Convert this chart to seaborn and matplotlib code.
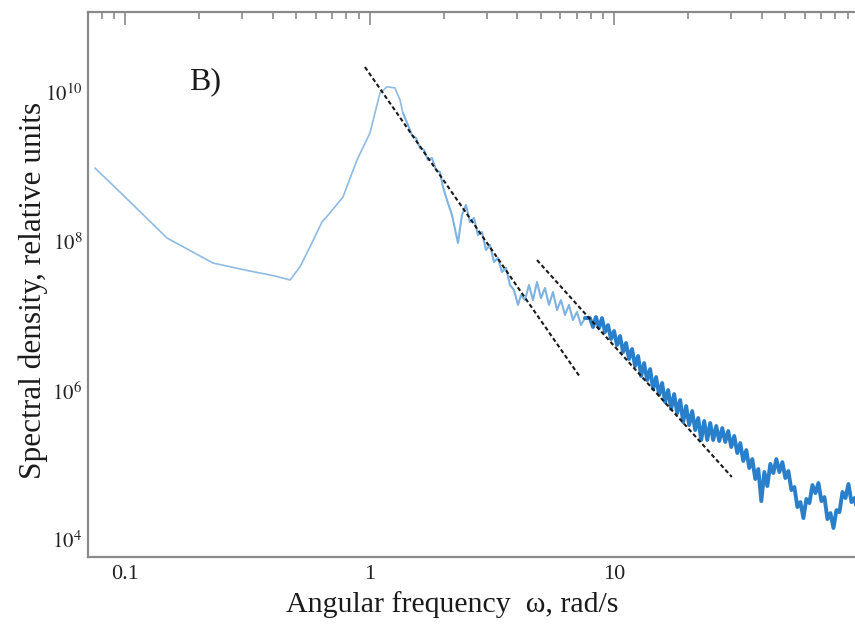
import matplotlib
matplotlib.use("Agg")
import matplotlib.pyplot as plt
import seaborn as sns
import pandas as pd
from matplotlib.ticker import FixedLocator, FixedFormatter, LogLocator, NullFormatter, NullLocator

# ---- data ----
# low-frequency branch with the resonance peak
omega_low = [0.0750, 0.0977, 0.148, 0.228, 0.308, 0.409, 0.471, 0.517, 0.579,
             0.636, 0.686, 0.776, 0.885, 1.0, 1.099, 1.174, 1.265, 1.327, 1.364]
S_low = [9.84e8, 4.28e8, 1.13e8, 5.22e7, 4.21e7, 3.50e7, 3.09e7, 4.61e7, 9.70e7,
         1.85e8, 2.45e8, 4.02e8, 1.26e9, 2.90e9, 1.00e10, 1.21e10, 1.17e10, 8.05e9, 5.40e9]

# noisy thin branch after the peak
omega_mid = [1.364, 1.430, 1.485, 1.542, 1.602, 1.663, 1.727, 1.793, 1.862, 1.933, 1.989,
             2.065, 2.165, 2.291, 2.378, 2.470, 2.564, 2.663, 2.765, 2.871, 2.981,
             3.096, 3.215, 3.338, 3.467, 3.600, 3.738, 3.882, 4.031, 4.146, 4.305,
             4.470, 4.642, 4.820, 5.005, 5.197, 5.397, 5.604, 5.819, 6.042, 6.274,
             6.515, 6.765, 7.025, 7.295, 7.574]
S_mid = [5.40e9, 3.72e9, 2.73e9, 2.49e9, 1.83e9, 1.72e9, 1.26e9, 1.34e9, 9.25e8, 8.70e8, 5.47e8,
         3.66e8, 2.30e8, 9.70e7, 2.30e8, 3.14e8, 1.85e8, 2.10e8, 1.24e8, 1.36e8, 7.81e7,
         9.12e7, 5.39e7, 6.10e7, 3.96e7, 4.48e7, 2.65e7, 2.27e7, 1.43e7, 1.94e7, 1.66e7,
         2.65e7, 1.66e7, 2.90e7, 1.77e7, 2.41e7, 1.43e7, 2.13e7, 1.22e7, 1.66e7, 1.05e7,
         1.43e7, 8.97e6, 1.15e7, 7.69e6, 9.55e6]

# dense high-frequency branch
omega_high = [7.574, 7.94, 8.17, 8.40, 8.64, 8.89, 9.15, 9.41, 9.68, 9.96, 10.24, 10.54, 10.84,
              11.15, 11.47, 11.80, 12.14, 12.49, 12.85, 13.22, 13.60, 13.99, 14.39,
              14.80, 15.23, 15.66, 16.11, 16.58, 17.05, 17.54, 18.05, 18.56, 19.10,
              19.64, 20.21, 20.79, 21.38, 22.00, 22.63, 23.28, 23.95, 24.63, 25.34,
              26.07, 26.82, 27.59, 28.38, 29.19, 30.03, 30.89, 31.78, 32.69, 33.63,
              34.60, 35.59, 36.61, 37.66, 38.74, 39.86, 41.00, 42.18, 43.39, 44.63,
              45.92, 47.23, 48.59, 49.99, 51.42, 52.90, 54.42, 55.98, 57.59, 59.24,
              60.94, 62.69, 64.49, 66.34, 68.24, 70.20, 72.22, 74.29, 76.42, 78.62,
              80.87, 83.19, 85.58, 88.04, 90.56, 93.16, 95.84, 98.59]
S_high = [9.55e6, 9.53e6, 7.22e6, 9.84e6, 7.00e6, 9.53e6, 6.19e6, 7.68e6, 4.99e6, 6.38e6, 4.14e6,
          5.47e6, 3.33e6, 4.41e6, 2.69e6, 3.66e6, 2.16e6, 2.95e6, 1.59e6, 2.37e6, 1.40e6,
          1.97e6, 1.06e6, 1.54e6, 8.83e5, 1.28e6, 7.11e5, 1.03e6, 5.73e5, 9.10e5, 5.06e5,
          7.57e5, 3.83e5, 6.28e5, 3.49e5, 5.38e5, 2.99e5, 4.34e5, 2.20e5, 3.95e5, 2.20e5,
          3.72e5, 2.20e5, 3.39e5, 2.13e5, 3.18e5, 2.07e5, 2.90e5, 1.77e5, 2.49e5, 1.47e5,
          2.00e5, 1.15e5, 1.61e5, 9.25e4, 1.22e5, 6.58e4, 8.97e4, 3.33e4, 8.17e4, 5.30e4,
          1.05e5, 7.92e4, 1.22e5, 8.17e4, 1.11e5, 6.79e4, 8.43e4, 4.69e4, 5.14e4, 2.77e4,
          3.23e4, 1.97e4, 3.55e4, 3.13e4, 5.47e4, 4.27e4, 5.82e4, 3.33e4, 3.77e4, 1.91e4,
          2.30e4, 1.45e4, 2.52e4, 2.37e4, 4.41e4, 3.66e4, 5.64e4, 3.23e4, 3.66e4, 2.37e4]

# power-law fits (dashed)
fit1_omega = [0.954, 7.23]
fit1_S = [2.23e10, 1.54e6]
fit2_omega = [4.82, 30.2]
fit2_S = [5.73e7, 7.01e4]

x_ticks = [0.1, 1, 10]
x_tick_labels = ["0.1", "1", "10"]
y_ticks = [1e4, 1e6, 1e8, 1e10]
y_tick_labels = [r"$10^{4}$", r"$10^{6}$", r"$10^{8}$", r"$10^{10}$"]
panel_label = "B)"
x_label = "Angular frequency  \u03c9, rad/s"
y_label = "Spectral density, relative units"

# ---- figure ----
sns.set_theme(style="white")
plt.rcParams["font.family"] = ["Liberation Serif", "DejaVu Serif"]
plt.rcParams["mathtext.fontset"] = "stix"

fig = plt.figure(figsize=(8.55, 6.24), dpi=100)
ax = fig.add_axes([88 / 855, 1 - 557 / 624, 1 - 88 / 855, 545 / 624])
ax.set_xscale("log")
ax.set_yscale("log")

low_df = pd.DataFrame({"omega": omega_low, "S": S_low})
mid_df = pd.DataFrame({"omega": omega_mid, "S": S_mid})
high_df = pd.DataFrame({"omega": omega_high, "S": S_high})

sns.lineplot(data=low_df, x="omega", y="S", ax=ax, color="#8fbbe3", lw=1.2,
             estimator=None, sort=False)
sns.lineplot(data=mid_df, x="omega", y="S", ax=ax, color="#7db3e2", lw=1.5,
             estimator=None, sort=False)
sns.lineplot(data=high_df, x="omega", y="S", ax=ax, color="#2a7fca", lw=2.8,
             estimator=None, sort=False)

for fo, fs in ((fit1_omega, fit1_S), (fit2_omega, fit2_S)):
    fdf = pd.DataFrame({"omega": fo, "S": fs})
    sns.lineplot(data=fdf, x="omega", y="S", ax=ax, color="#1a1a1a", lw=1.5,
                 linestyle=(0, (2.0, 1.3)), estimator=None, sort=False)

ax.set_xlim(0.0703, 96.3)
ax.set_ylim(10 ** 3.772, 10 ** 11.087)

ax.xaxis.set_major_locator(FixedLocator(x_ticks))
ax.xaxis.set_major_formatter(FixedFormatter(x_tick_labels))
ax.xaxis.set_minor_locator(LogLocator(base=10, subs=range(2, 10), numticks=20))
ax.xaxis.set_minor_formatter(NullFormatter())
ax.yaxis.set_major_locator(FixedLocator(y_ticks))
ax.yaxis.set_major_formatter(FixedFormatter(y_tick_labels))
ax.yaxis.set_minor_locator(NullLocator())

spine_col = "#8a8a8a"
for side in ("left", "bottom", "top"):
    ax.spines[side].set_color(spine_col)
    ax.spines[side].set_linewidth(1.6)
ax.spines["right"].set_visible(False)

ax.tick_params(which="both", direction="in", top=True, right=False,
               color=spine_col, width=1.2)
ax.tick_params(which="major", length=9)
ax.tick_params(which="minor", length=5)
ax.tick_params(axis="x", which="major", labelsize=16, pad=6, labelcolor="#222222")
ax.tick_params(axis="y", which="major", labelsize=15, pad=4, labelcolor="#222222")

ax.set_xlabel(x_label, fontsize=21.5, color="#1a1a1a")
ax.xaxis.set_label_coords(0.4746, -0.063)
ax.set_ylabel(y_label, fontsize=22.5, color="#1a1a1a")
ax.yaxis.set_label_coords(-0.052, 0.49)
ax.text(0.1525, 0.872, panel_label, transform=ax.transAxes, fontsize=23,
        ha="center", va="center", color="#1a1a1a")

fig.savefig("out.png", dpi=100)
